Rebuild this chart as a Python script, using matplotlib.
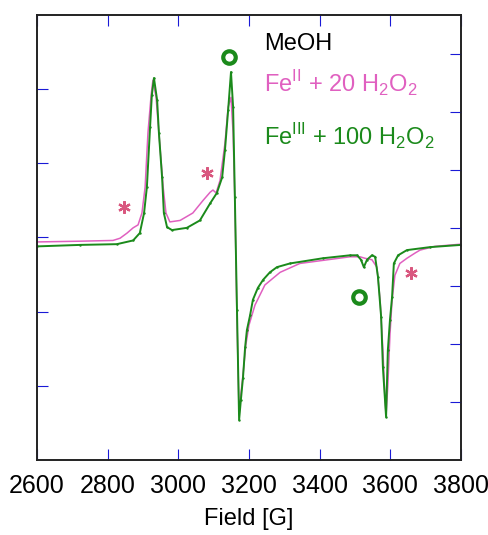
import numpy as np
import matplotlib
matplotlib.use('Agg')
import matplotlib.pyplot as plt

plt.rcParams['font.family'] = ['Liberation Sans', 'DejaVu Sans']
plt.rcParams['mathtext.fontset'] = 'custom'
plt.rcParams['mathtext.rm'] = 'Liberation Sans'

# Fe(III) + 100 H2O2 spectrum (green)
green_field = [2600, 2722, 2826, 2872, 2891, 2903, 2911, 2920, 2925, 2931, 2940, 2945, 2954, 2959,
               2968, 2982, 3024, 3061, 3090, 3109, 3124, 3132, 3141, 3149, 3155, 3160, 3166, 3172,
               3177, 3183, 3189, 3194, 3203, 3211, 3225, 3240, 3259, 3279, 3316, 3409, 3486, 3506,
               3517, 3525, 3534, 3548, 3557, 3565, 3574, 3579, 3588, 3593, 3599, 3605, 3610, 3622,
               3647, 3712, 3800]
green_int = [2.88, 2.90, 2.91, 2.96, 3.06, 3.33, 3.68, 4.49, 4.92, 5.15, 4.85, 4.41, 3.81, 3.33,
             3.14, 3.10, 3.13, 3.23, 3.46, 3.60, 3.81, 4.18, 4.72, 5.23, 4.76, 3.54, 2.02, 0.54,
             0.81, 1.11, 1.52, 1.75, 1.95, 2.16, 2.32, 2.43, 2.53, 2.60, 2.65, 2.72, 2.76, 2.76,
             2.70, 2.60, 2.70, 2.76, 2.74, 2.47, 1.93, 1.25, 0.58, 1.48, 1.89, 2.20, 2.65, 2.76,
             2.83, 2.87, 2.90]

# Fe(II) + 20 H2O2 spectrum (magenta)
pink_field = [2600, 2722, 2815, 2835, 2855, 2872, 2886, 2897, 2906, 2914, 2923, 2928, 2937, 2945,
              2957, 2965, 2976, 3005, 3041, 3070, 3090, 3098, 3107, 3118, 3132, 3141, 3149, 3155,
              3160, 3166, 3172, 3177, 3183, 3191, 3200, 3217, 3245, 3288, 3344, 3486, 3514, 3528,
              3548, 3562, 3571, 3579, 3585, 3588, 3593, 3599, 3605, 3613, 3627, 3647, 3670, 3684,
              3726, 3800]
pink_int = [2.94, 2.95, 2.96, 2.99, 3.06, 3.13, 3.17, 3.33, 3.68, 4.41, 4.92, 5.12, 4.89, 4.41,
            3.68, 3.33, 3.21, 3.23, 3.33, 3.50, 3.61, 3.64, 3.60, 3.77, 4.27, 4.76, 4.89, 4.41,
            3.50, 1.89, 0.61, 0.88, 1.15, 1.55, 1.82, 2.09, 2.36, 2.53, 2.65, 2.74, 2.74, 2.72,
            2.70, 2.60, 2.16, 1.48, 0.81, 0.61, 1.01, 1.69, 2.16, 2.49, 2.65, 2.72, 2.79, 2.83,
            2.88, 2.91]

# annotation marks
star_field = [2846, 3081, 3658]
star_int = [3.41, 3.87, 2.52]
circ_field = [3143, 3511]
circ_int = [5.43, 2.20]

green = '#1b8a1b'
pink = '#e060c0'
tick_blue = '#1a1ad6'

fig = plt.figure(figsize=(4.89, 5.35), dpi=100)
ax = fig.add_axes([0.0757, 0.1402, 0.867, 0.8318])

ax.plot(pink_field, pink_int, color=pink, lw=1.1)
ax.plot(green_field, green_int, color=green, lw=1.4, marker='.', ms=1.5)
ax.plot(star_field, star_int, ls='none', marker=(6, 2, 0), ms=9, mew=1.6, color='#d9577f')
ax.plot(circ_field, circ_int, ls='none', marker='o', ms=9, mew=3, mfc='none', mec=green)

ax.set_xlim(2600, 3800)
ax.set_ylim(0, 6)
ax.set_xticks(np.arange(2600, 3801, 200))
ax.set_yticks([1, 2, 3, 4, 5])
ax.set_yticklabels([])
ax.tick_params(axis='both', direction='in', length=8, color=tick_blue, labelsize=18, pad=10)
ax.tick_params(axis='x', top=True)
ax.tick_params(axis='y', left=True, right=False)
ax.set_xlabel('Field [G]', fontsize=17, labelpad=7)

ax2 = ax.twinx()
ax2.set_ylim(0, 7.67)
ax2.set_yticks([1, 2, 3, 4, 5, 6, 7])
ax2.set_yticklabels([])
ax2.tick_params(axis='y', direction='in', length=8, color=tick_blue)

for a in (ax, ax2):
    for s in a.spines.values():
        s.set_color('#222222')
        s.set_linewidth(1.2)

ax.text(0.536, 0.921, 'MeOH', transform=ax.transAxes, fontsize=17, color='black', va='baseline')
ax.text(0.536, 0.826, r'Fe$^{\mathregular{II}}$ + 20 H$_{\mathregular{2}}$O$_{\mathregular{2}}$',
        transform=ax.transAxes, fontsize=17, color=pink, va='baseline')
ax.text(0.536, 0.706, r'Fe$^{\mathregular{III}}$ + 100 H$_{\mathregular{2}}$O$_{\mathregular{2}}$',
        transform=ax.transAxes, fontsize=17, color=green, va='baseline')

plt.savefig('out.png', dpi=100)
